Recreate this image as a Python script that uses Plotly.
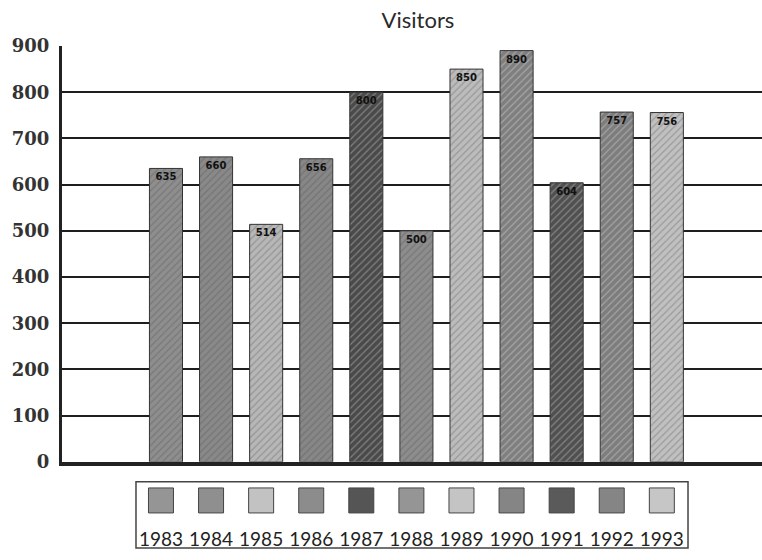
import plotly.graph_objects as go

years = ["1983", "1984", "1985", "1986", "1987", "1988", "1989", "1990", "1991", "1992", "1993"]
visitors = [635, 660, 514, 656, 800, 500, 850, 890, 604, 757, 756]
bar_colors = ["#8e8e8e", "#898989", "#b7b7b7", "#878787", "#4a4a4a", "#8d8d8d",
              "#bcbcbc", "#7f7f7f", "#505050", "#7d7d7d", "#c0c0c0"]
swatch_colors = ["#959595", "#8f8f8f", "#c2c2c2", "#8c8c8c", "#555555", "#959595",
                 "#c4c4c4", "#858585", "#5a5a5a", "#858585", "#c6c6c6"]
y_ticks = [0, 100, 200, 300, 400, 500, 600, 700, 800, 900]

idx = list(range(len(years)))

fig = go.Figure()

fig.add_trace(go.Bar(
    x=idx, y=visitors, width=0.66,
    marker=dict(color=bar_colors,
                line=dict(color="#333333", width=1),
                pattern=dict(shape="/", size=5, solidity=0.25,
                             fgcolor="#2a2a2a", fgopacity=0.3)),
    text=[str(v) for v in visitors],
    textposition="inside", insidetextanchor="end", textangle=0,
    constraintext="none",
    textfont=dict(family="DejaVu Sans", size=10, color="#111111", weight="bold"),
    showlegend=False, hoverinfo="skip",
))

# legend swatches and labels (custom legend row aligned with bars)
fig.add_trace(go.Scatter(
    x=idx, y=[0.725] * len(idx), mode="markers",
    marker=dict(symbol="square", size=25, color=swatch_colors,
                line=dict(color="#444444", width=1)),
    xaxis="x2", yaxis="y2", showlegend=False, hoverinfo="skip",
))
fig.add_trace(go.Scatter(
    x=idx, y=[0.13] * len(idx), mode="text", text=years,
    textfont=dict(family="Lato", size=19, color="#222222"),
    xaxis="x2", yaxis="y2", showlegend=False, hoverinfo="skip",
))

fig.update_layout(
    width=762, height=560,
    margin=dict(l=62, r=0, t=46, b=5),
    paper_bgcolor="white", plot_bgcolor="white",
    title=dict(text="Visitors", x=418 / 762, xanchor="center",
               y=1 - 20 / 560, yanchor="middle", yref="container",
               font=dict(family="Lato", size=22, color="#2a2a2a")),
    bargap=0.34,
    xaxis=dict(range=[-2.076, 11.9], anchor="y", showticklabels=False,
               showgrid=False, zeroline=False, showline=True,
               linewidth=4, linecolor="#222222", ticks=""),
    yaxis=dict(domain=[0.1749, 1], range=[0, 900], tickvals=y_ticks,
               showgrid=True, gridcolor="#1e1e1e", gridwidth=2,
               zeroline=False, showline=True, linewidth=3, linecolor="#222222",
               ticks="", ticklabelstandoff=6,
               tickfont=dict(family="DejaVu Serif", size=18, color="#333333",
                             weight="bold")),
    xaxis2=dict(range=[-1.976, 12.0], anchor="y2", visible=False),
    yaxis2=dict(domain=[0, 0.1356], range=[0, 1], visible=False),
    shapes=[dict(type="rect", xref="paper", yref="paper",
                 x0=0.1057, x1=0.8943, y0=0.004, y1=0.1356,
                 line=dict(color="#444444", width=1.5))],
)

fig.write_html("out.html")
